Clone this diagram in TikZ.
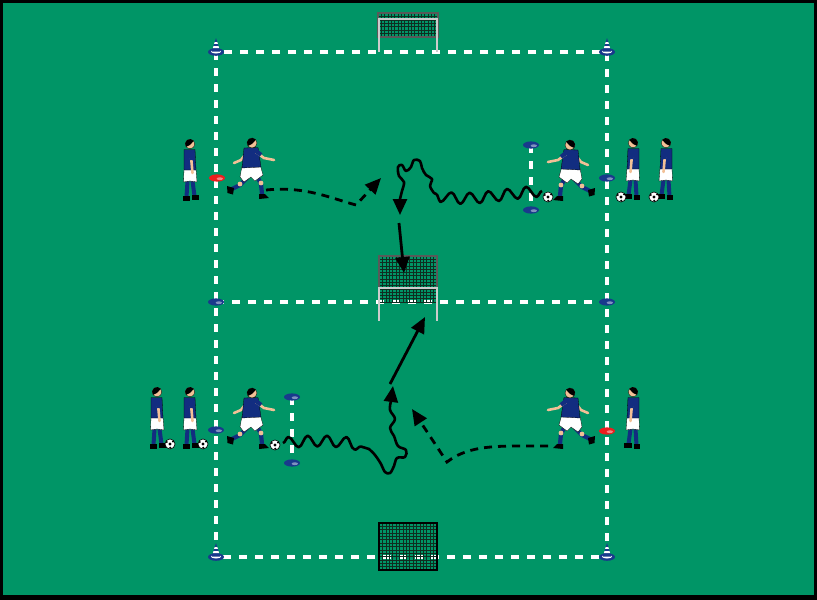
\documentclass[tikz,border=0pt]{standalone}
\usepackage{xcolor}
\usetikzlibrary{arrows.meta,decorations.pathmorphing}
\definecolor{grass}{RGB}{0,149,102}
\definecolor{kit}{RGB}{18,45,128}
\definecolor{skin}{RGB}{242,192,150}
\definecolor{coneblue}{RGB}{25,58,140}
\definecolor{conered}{RGB}{235,30,30}
\definecolor{netdark}{RGB}{15,45,32}
\tikzset{
	pitchline/.style={white, line width=3.4pt, dash pattern=on 8pt off 8pt},
	netline/.style={netdark, line width=.6pt},
	netedge/.style={draw=black!65, line width=1.4pt},
	post/.style={white!80!black, line width=2.4pt},
	run/.style={black, line width=2.8pt, dash pattern=on 8pt off 6pt,
			-{Triangle[length=16pt,width=14pt]}},
	pass/.style={black, line width=2.8pt, -{Triangle[length=16pt,width=14pt]}},
	dribble/.style={black, line width=2.6pt, line join=round,
			decoration={snake, amplitude=5.5pt, segment length=19pt},
			-{Triangle[length=16pt,width=14pt]}},
	pics/ball/.style={code={
				\filldraw[fill=white, draw=black, line width=.6pt] (0,0) circle (5pt);
				\fill (0,0) circle (1.6pt) (3,-2.6) circle (1.1pt) (-3.2,-2) circle (1.1pt) (0.2,3.7) circle (1.1pt);
			}},
	pics/disc/.style={code={
				\fill[#1] (0,0) ellipse [x radius=8pt, y radius=3.6pt];
				\fill[white, opacity=.45] (2.8,0.7) ellipse [x radius=3.2pt, y radius=1.4pt];
			}},
	pics/cone/.style={code={
				\fill[coneblue] (0,0) ellipse [x radius=8pt, y radius=3.8pt];
				\fill[white] (0,-0.4) ellipse [x radius=5pt, y radius=1.9pt];
				\fill[coneblue] (-4.2,-0.5) -- (0,-14) -- (4.2,-0.5) -- cycle;
				\fill[white] (-3.2,-3.8) -- (3.2,-3.8) -- (2.5,-6) -- (-2.5,-6) -- cycle;
				\fill[white] (-1.9,-8.2) -- (1.9,-8.2) -- (1.3,-10) -- (-1.3,-10) -- cycle;
			}},
	pics/waiting/.style={code={
				\draw[kit, line width=4pt] (-2.5,37) -- (-3.5,53);
				\draw[kit, line width=4pt] (2.5,37) -- (4.5,52);
				\fill (-7,52) rectangle (-0.5,57);
				\fill (1.5,51) rectangle (9,56);
				\filldraw[fill=white, draw=black, line width=.3pt] (-6,25) -- (6,25) -- (7,38) -- (0,37) -- (-6.5,38) -- cycle;
				\filldraw[fill=kit, draw=black, line width=.3pt] (-6,5.5) -- (5,5.5) -- (6,26) -- (-6,26) -- cycle;
				\draw[skin, line width=2.6pt, line cap=round] (1,12) -- (2.5,29);
				\draw[kit, line width=4pt] (0.8,7) -- (1.4,16);
				\filldraw[fill=skin, draw=black, line width=.3pt] (0,0) circle (4.8pt);
				\fill[black] (0,0) ++(215:4.9pt) arc (215:40:4.9pt) -- (0,1) -- cycle;
			}},
	pics/runner/.style={code={
				\draw[kit, line width=4.2pt, line cap=round] (-5,35) -- (-12,42) -- (-20,46);
				\fill (-25,43) -- (-18,45) -- (-19,51.5) -- (-24.5,50) -- cycle;
				\draw[kit, line width=4.2pt, line cap=round] (5,33) -- (9,41) -- (10,51);
				\fill (7,51) -- (13,51) -- (17,55) -- (7,56) -- cycle;
				\fill[skin] (-12,41) circle (2.4pt) (9,40) circle (2.4pt);
				\filldraw[fill=white, draw=black, line width=.3pt] (-10,23) -- (8,21) -- (11,32) -- (3,38) -- (-1,34) -- (-8,39) -- (-12,34) -- cycle;
				\draw[skin, line width=2.6pt, line cap=round] (-4,8) -- (-11,17) -- (-18,20);
				\draw[kit, line width=4.2pt] (-3,7) -- (-7.5,13);
				\filldraw[fill=kit, draw=black, line width=.3pt] (-8,5) -- (6,4.5) -- (9,24) -- (-10,25) -- cycle;
				\draw[skin, line width=2.6pt, line cap=round] (4,9) -- (12,15) -- (22,17);
				\draw[kit, line width=4.2pt] (3,7) -- (9,12);
				\filldraw[fill=skin, draw=black, line width=.3pt] (0,0) circle (5pt);
				\fill[black] (0,0) ++(215:5.1pt) arc (215:40:5.1pt) -- (0,1) -- cycle;
			}}
}
\newcommand{\goalnet}[6]{%
	\foreach \k in {0,...,#5}
	\draw[netline] ({#1+\k*(#3-#1)/#5},#2) -- ({#1+\k*(#3-#1)/#5},#4);
	\foreach \k in {0,...,#6}
	\draw[netline] (#1,{#2+\k*(#4-#2)/#6}) -- (#3,{#2+\k*(#4-#2)/#6});
}

\begin{document}
\begin{tikzpicture}[x=1pt, y=-1pt]
	\useasboundingbox (0,0) rectangle (817,600);
	\fill[black] (0,0) rectangle (817,600);
	\fill[grass] (3,3) rectangle (814,595);

	\draw[pitchline] (216,52) rectangle (607,557);
	\draw[pitchline] (216,302) -- (607,302);
	\draw[pitchline] (531,145) -- (531,210);
	\draw[pitchline] (292,397) -- (292,463);

	\goalnet{378}{13}{438}{37}{18}{7}
	\draw[netedge] (378,13) rectangle (438,37);
	\draw[post] (379,52) -- (379,19) -- (437,19) -- (437,52);

	\goalnet{379}{256}{437}{302}{17}{14}
	\draw[netedge] (379,302) -- (379,256) -- (437,256) -- (437,302);
	\draw[post] (379,321) -- (379,288) -- (437,288) -- (437,321);

	\goalnet{379}{523}{437}{570}{17}{14}
	\draw[netedge] (379,555) -- (379,523) -- (437,523) -- (437,555);
	\draw[black, line width=1.2pt] (379,523) rectangle (437,570);

	\pic at (216,52) {cone};
	\pic at (607,52) {cone};
	\pic at (216,557) {cone};
	\pic at (607,557) {cone};
	\pic at (216,302) {disc=coneblue};
	\pic at (607,302) {disc=coneblue};
	\pic at (217,178) {disc=conered};
	\pic at (607,178) {disc=coneblue};
	\pic at (216,430) {disc=coneblue};
	\pic at (607,431) {disc=conered};
	\pic at (531,145) {disc=coneblue};
	\pic at (531,210) {disc=coneblue};
	\pic at (292,397) {disc=coneblue};
	\pic at (292,463) {disc=coneblue};

	\pic at (190,144) {waiting};
	\pic at (252,143) {runner};
	\pic[xscale=-1] at (570,145) {runner};
	\pic[xscale=-1] at (633,143) {waiting};
	\pic[xscale=-1] at (666,143) {waiting};
	\pic at (157,392) {waiting};
	\pic at (190,392) {waiting};
	\pic at (252,393) {runner};
	\pic[xscale=-1] at (570,393) {runner};
	\pic[xscale=-1] at (633,392) {waiting};

	\pic at (548,197) {ball};
	\pic at (621,197) {ball};
	\pic at (654,197) {ball};
	\pic at (170,444) {ball};
	\pic at (203,444) {ball};
	\pic at (275,445) {ball};

	\coordinate (runTL) at (266,190);
	\coordinate (runTLend) at (381,178);
	\coordinate (dribTR) at (542,191);
	\coordinate (turnTR) at (434,193);
	\coordinate (dribTRend) at (400,215);
	\coordinate (shotT) at (399,223);
	\coordinate (goalT) at (404,273);
	\coordinate (dribBL) at (283,443);
	\coordinate (turnBL) at (369,449);
	\coordinate (dribBLend) at (393,386);
	\coordinate (shotB) at (390,384);
	\coordinate (goalB) at (425,317);
	\coordinate (runBR) at (548,446);
	\coordinate (runBRend) at (412,409);

	\draw[run] (runTL) .. controls (305,186) and (330,198) .. (356,205) -- (runTLend);
	\draw[dribble] (dribTR) decorate {.. controls (500,194) and (466,204) .. (turnTR)}
		-- plot[smooth, tension=.6] coordinates {(turnTR) (430,186) (432,179) (426,175) (422,168)
				(420,161) (414,160) (411,167) (406,171) (402,165) (398,167) (399,176) (404,182)
				(402,191) (400,199)} -- (dribTRend);
	\draw[pass] (shotT) -- (goalT);
	\draw[dribble] (dribBL) decorate {.. controls (315,440) and (345,441) .. (turnBL)}
		-- plot[smooth, tension=.6] coordinates {(turnBL) (375,455) (381,464) (385,472) (390,473)
				(394,466) (397,458) (405,457) (406,450) (398,446) (394,436) (390,428) (395,419)
				(390,410) (391,401)} -- (dribBLend);
	\draw[pass] (shotB) -- (goalB);
	\draw[run] (runBR) .. controls (500,446) and (470,444) .. (447,462) -- (runBRend);
\end{tikzpicture}
\end{document}
